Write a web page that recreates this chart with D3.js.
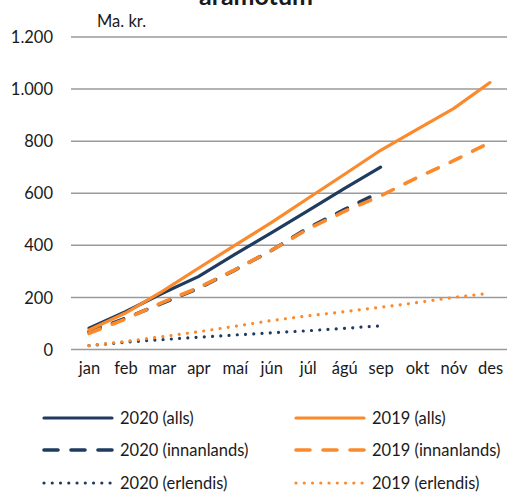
<!DOCTYPE html>
<html>
<head>
<meta charset="utf-8">
<script src="https://cdn.jsdelivr.net/npm/d3@7"></script>
<style>
  html, body { margin: 0; padding: 0; background: #fff; }
  svg { display: block; font-family: Lato, "Open Sans", sans-serif; }
</style>
</head>
<body>
<svg id="chart" width="507" height="493"></svg>
<script>
const months = ["jan","feb","mar","apr","maí","jún","júl","ágú","sep","okt","nóv","des"];
const yTicks = [0, 200, 400, 600, 800, 1000, 1200];
const title = "áramótum";
const unitLabel = "Ma. kr.";

const alls2020 = [82, 145, 215, 280, 365, 448, 532, 618, 700];
const innan2020 = [68, 120, 177, 235, 305, 380, 466, 537, 605];
const erl2020 = [15, 28, 38, 47, 56, 64, 72, 81, 91];

const alls2019 = [75, 140, 222, 312, 400, 487, 580, 672, 765, 845, 925, 1025];
const innan2019 = [62, 117, 180, 237, 306, 380, 462, 530, 590, 660, 725, 795];
const erl2019 = [15, 31, 49, 68, 89, 111, 129, 145, 162, 180, 200, 216];

const seriesNames = ["2020 (alls)", "2019 (alls)", "2020 (innanlands)", "2019 (innanlands)", "2020 (erlendis)", "2019 (erlendis)"];

const navy = "#1f3b5e";
const orange = "#fb8a2d";

const series = [
  { name: seriesNames[0], values: alls2020, color: navy, style: "solid" },
  { name: seriesNames[2], values: innan2020, color: navy, style: "dash" },
  { name: seriesNames[4], values: erl2020, color: navy, style: "dot" },
  { name: seriesNames[1], values: alls2019, color: orange, style: "solid" },
  { name: seriesNames[3], values: innan2019, color: orange, style: "dash" },
  { name: seriesNames[5], values: erl2019, color: orange, style: "dot" }
];

const styles = {
  solid: { width: 3.2, dash: null },
  dash: { width: 3.6, dash: "12,13" },
  dot: { width: 3.2, dash: "0.01,8.25" }
};

const textColor = "#1a1a1a";
const fontSize = 16.5;

const svg = d3.select("#chart");
const x = d3.scalePoint().domain(months).range([89, 490]);
const y = d3.scaleLinear().domain([0, 1200]).range([349.5, 37]);
const locale = d3.formatLocale({ decimal: ",", thousands: ".", grouping: [3], currency: ["", ""] });
const fmt = locale.format(",d");

// title (top of it lies above the picture, as in the reference)
svg.append("text").attr("x", 256).attr("y", 5).attr("text-anchor", "middle")
  .attr("font-size", 25).attr("font-weight", "bold").attr("fill", textColor).text(title);

// gridlines
svg.append("g").selectAll("line").data(yTicks).join("line")
  .attr("x1", 71).attr("x2", 508)
  .attr("y1", d => y(d)).attr("y2", d => y(d))
  .attr("stroke", "#9a9a9a").attr("stroke-width", 1.5);

// y axis labels
const yAxis = d3.axisLeft(y).tickValues(yTicks).tickFormat(fmt).tickSize(0).tickPadding(0);
const yg = svg.append("g").attr("transform", "translate(53,0)").call(yAxis);
yg.select(".domain").remove();
yg.selectAll("text").attr("font-size", fontSize).attr("fill", textColor).attr("font-family", "Lato, sans-serif").attr("dy", "0.34em");

// x axis labels
const xAxis = d3.axisBottom(x).tickSize(0).tickPadding(0);
const xg = svg.append("g").attr("transform", "translate(0,362)").call(xAxis);
xg.select(".domain").remove();
xg.selectAll("text").attr("font-size", fontSize).attr("fill", textColor).attr("font-family", "Lato, sans-serif").attr("dy", "0.72em");

// unit label
svg.append("text").attr("x", 97).attr("y", 27).attr("font-size", fontSize).attr("fill", textColor).text(unitLabel);

// lines
const line = d3.line().x((d, i) => x(months[i])).y(d => y(d));
svg.append("g").selectAll("path").data(series).join("path")
  .attr("d", d => line(d.values))
  .attr("fill", "none")
  .attr("stroke", d => d.color)
  .attr("stroke-width", d => styles[d.style].width)
  .attr("stroke-dasharray", d => styles[d.style].dash)
  .attr("stroke-linecap", "round")
  .attr("stroke-linejoin", "round");

// legend
const legendOrder = [series[0], series[3], series[1], series[4], series[2], series[5]];
const legendX = [43, 295];
const legendY = [418, 450, 483];
const lg = svg.append("g").selectAll("g").data(legendOrder).join("g")
  .attr("transform", (d, i) => `translate(${legendX[i % 2]},${legendY[Math.floor(i / 2)]})`);
lg.append("line").attr("x1", 1).attr("x2", 69).attr("y1", 0).attr("y2", 0)
  .attr("stroke", d => d.color)
  .attr("stroke-width", d => styles[d.style].width)
  .attr("stroke-dasharray", d => d.style === "dash" ? "14,13" : styles[d.style].dash)
  .attr("stroke-linecap", "round");
lg.append("text").attr("x", 77).attr("y", 0).attr("dy", "0.35em")
  .attr("font-size", fontSize).attr("fill", textColor).text(d => d.name);
</script>
</body>
</html>
